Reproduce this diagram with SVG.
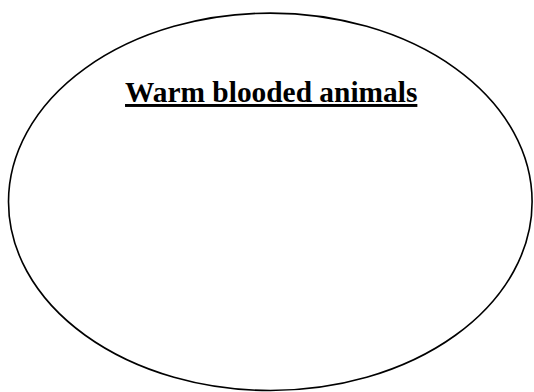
<svg xmlns="http://www.w3.org/2000/svg" width="534" height="392" viewBox="0 0 534 392">
<style>
.shape{fill:#fff;stroke:#000;stroke-width:1.6}
.title{font-family:"Liberation Serif","Times New Roman",serif;font-weight:bold;font-size:29.4px;fill:#000;text-decoration:underline}
</style>
<rect width="534" height="392" fill="#fff"/>
<g id="warm-blooded">
<ellipse class="shape" cx="270.3" cy="201.8" rx="261.8" ry="188.7"/>
<text class="title" x="271.2" y="102" text-anchor="middle">Warm blooded animals</text>
</g>
<g id="connectors"/>
</svg>
